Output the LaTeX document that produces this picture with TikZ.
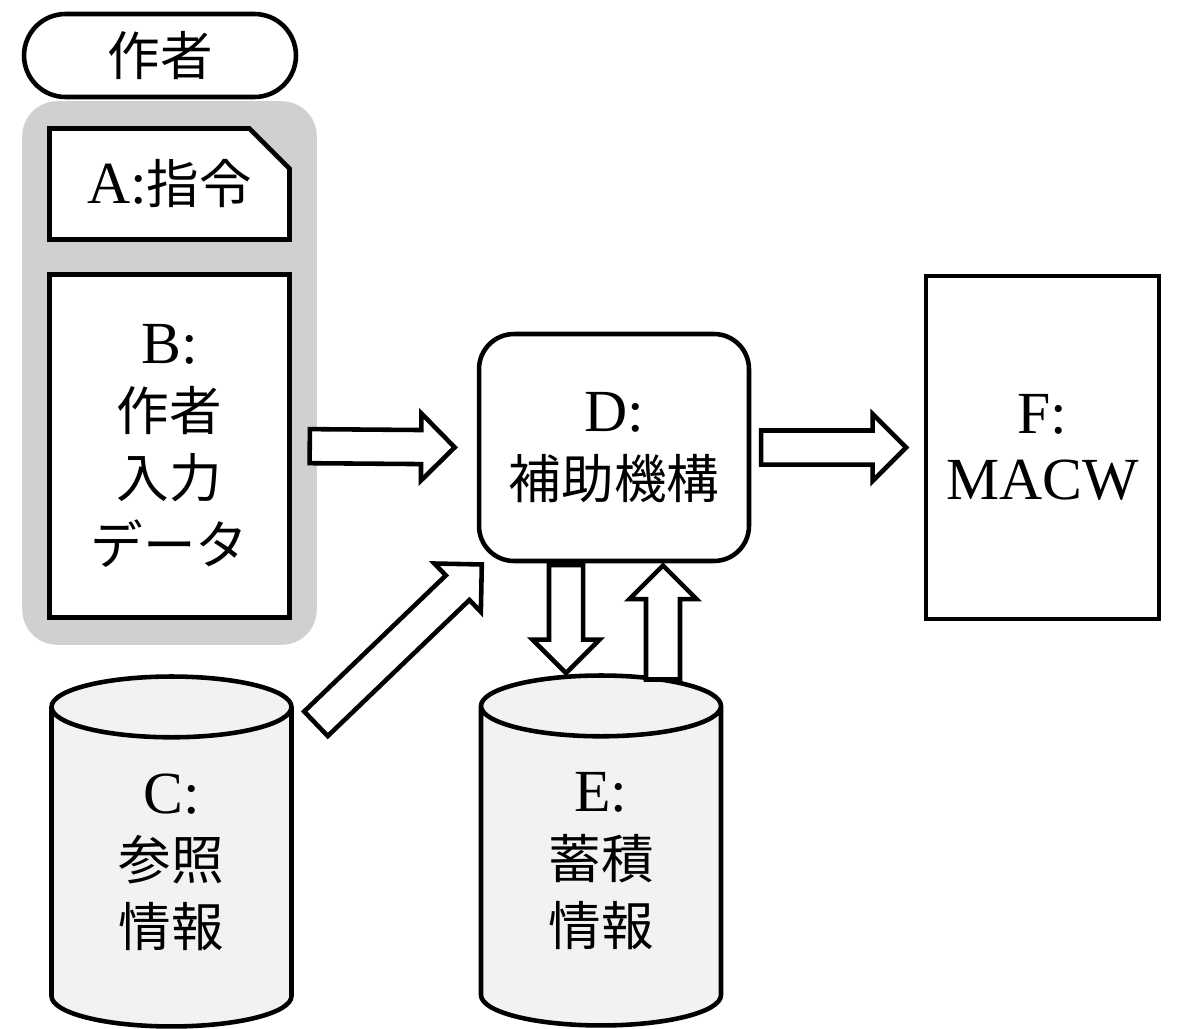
\documentclass[tikz,border=0pt]{standalone}
\usepackage{fontspec}
\setmainfont{Liberation Serif}
\newfontfamily\cjk[Scale=0.88]{Noto Sans CJK JP}
\usetikzlibrary{shapes.geometric, shapes.misc, shapes.arrows, positioning, fit, backgrounds}
\definecolor{groupgray}{HTML}{D0CFD1}
\definecolor{dbfill}{HTML}{F2F2F2}
\newcommand{\jp}[1]{{\cjk #1}}

\begin{document}
\begin{tikzpicture}[
  x=0.02cm, y=-0.02cm,
  line width=2.6pt,
  every node/.style={font=\fontsize{34}{38}\selectfont, align=center},
  actor/.style={
    rectangle,
    draw,
    rounded corners=0.83cm,
    minimum width=5.44cm,
    minimum height=1.66cm
  },
  memo/.style={
    chamfered rectangle,
    chamfered rectangle corners=north east,
    chamfered rectangle sep=0.4cm,
    draw,
    fill=white,
    minimum width=4.8cm,
    minimum height=2.22cm
  },
  box/.style={
    rectangle,
    draw,
    fill=white,
    minimum height=6.86cm
  },
  engine/.style={
    rectangle,
    draw,
    fill=white,
    rounded corners=0.7cm,
    minimum width=5.4cm,
    minimum height=4.54cm
  },
  store/.style={
    cylinder,
    shape border rotate=90,
    aspect=0.52,
    draw,
    fill=dbfill,
    text depth=0.5cm,
    minimum width=4.8cm,
    minimum height=7.0cm
  },
  flow/.style={
    single arrow,
    draw,
    fill=white,
    sloped,
    inner sep=0pt,
    inner ysep=0.295cm,
    single arrow head extend=0.33cm
  }
]
  \useasboundingbox (0,0) rectangle (1186,1028);

  % Author side
  \node[actor] (author) at (160,55.5) {\jp{作者}};
  \node[memo] (a) at (169.5,184) {A:\jp{指令}};
  \node[box, minimum width=4.8cm] (b) at (169.5,446) {B:\\\jp{作者}\\\jp{入力}\\\jp{データ}};
  \begin{scope}[on background layer]
    \node[fill=groupgray, rounded corners=0.7cm, inner sep=0.5cm, fit=(a)(b)] (group) {};
  \end{scope}

  % Middle and right
  \node[engine] (d) at (614,447.5) {D:\\\jp{補助機構}};
  \node[box, minimum width=4.66cm] (f) at (1042.5,447.5) {F:\\MACW};

  % Stores
  \node[store] (c) at (171.5,872.5) {C:\\\jp{参照}\\\jp{情報}};
  \node[store] (e) at (601,871.5) {E:\\\jp{蓄積}\\\jp{情報}};

  % Block arrows
  \path (b.east) -- node[flow, pos=0.443, minimum height=2.9cm] {} (d.west);
  \path (d.east) -- node[flow, pos=0.428, minimum height=2.9cm] {} (f.west);
  \path ([yshift=0.2cm]c.center) -- node[flow, pos=0.5, minimum height=4.6cm] {} ([yshift=0.2cm]d.center);
  \path ([xshift=-0.96cm]d.south) -- node[flow, pos=0.43, minimum height=2.16cm] {} ([xshift=-0.96cm]d.south |- e.north);
  \path ([xshift=0.98cm]d.south |- e.north) -- node[flow, pos=0.384, minimum height=2.28cm] {} ([xshift=0.98cm]d.south);
\end{tikzpicture}
\end{document}
